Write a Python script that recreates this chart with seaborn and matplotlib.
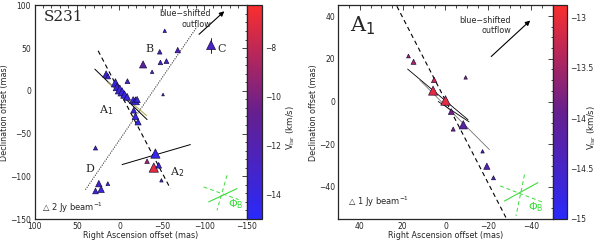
"""Water maser spots in S231: overview panel and zoom on A1."""

import matplotlib
matplotlib.use("Agg")
import matplotlib.pyplot as plt
import numpy as np
import pandas as pd
import seaborn as sns
from matplotlib.colors import LinearSegmentedColormap, Normalize
from matplotlib.colorbar import ColorbarBase
from matplotlib.ticker import MultipleLocator, FuncFormatter

# --- S231 overview (offsets in mas, flux in Jy/beam, velocity in km/s) ---
s231_ra = [-107.8, -53.3, -68.6, -47.4, -48.2, -55.3, -27.8, -38.4, -51.3, -9.4,
           15.7, 13.5, 4.7, 2.7, -0.4, -3.1, -5.9, -9.0, -16.1, -18.8, -20.8,
           -16.8, -18.8, -21.9, 28.2,
           -42.3, -32.5, -40.4, -46.2, -49.4,
           24.3, 28.2, 21.6, 13.7]
s231_dec = [53.5, 70.3, 47.7, 45.7, 33.2, 34.8, 30.9, 22.3, -4.3, 11.3,
            19.5, 17.0, 9.4, 4.7, 1.6, -1.2, -4.3, -7.0, -10.9, -11.7, -10.2,
            -22.7, -29.7, -36.3, -66.8,
            -73.4, -82.4, -89.8, -87.1, -104.7,
            -108.6, -117.2, -115.2, -108.6]
s231_flux = [2.6, 0.3, 0.9, 0.6, 0.6, 0.7, 1.6, 0.3, 0.15, 0.7,
             1.4, 0.8, 2.2, 2.0, 2.6, 2.2, 1.8, 1.5, 1.6, 2.0, 1.2,
             1.0, 1.4, 1.2, 0.5,
             2.8, 0.6, 2.8, 1.0, 0.3,
             1.3, 1.0, 1.3, 0.4]
s231_vel = [-12.8, -13.0, -12.5, -12.8, -13.0, -12.8, -11.3, -12.5, -13.0, -13.2,
            -13.6, -13.8, -14.0, -13.9, -13.7, -13.9, -14.0, -13.8, -14.0, -14.1, -13.9,
            -14.0, -14.1, -14.2, -13.6,
            -14.2, -8.5, -6.9, -13.9, -13.5,
            -13.4, -13.6, -13.8, -13.8]

# --- A1 zoom ---
a1_ra = [17.3, 14.9, 5.3, 5.8, 0.0, -9.4, -2.7, -3.6, -8.3, -17.3, -19.3, -22.4]
a1_dec = [21.3, 18.6, 10.1, 5.1, 0.5, 11.3, -4.7, -12.9, -10.9, -23.3, -30.3, -35.7]
a1_flux = [0.25, 0.5, 0.6, 1.8, 2.0, 0.2, 0.7, 0.3, 1.5, 0.2, 0.8, 0.3]
a1_vel = [-13.55, -13.45, -13.15, -13.05, -13.05, -13.6, -13.85, -13.7, -14.15,
          -14.3, -14.25, -14.45]

cmap = LinearSegmentedColormap.from_list(
    "vlsr", [(0.16, 0.16, 0.98), (0.40, 0.12, 0.56), (0.98, 0.18, 0.18)])


def minus(value, pos=None):
    return f"{value:g}".replace("-", "\u2212")


def style_axis(ax, major, minor):
    ax.xaxis.set_major_locator(MultipleLocator(major))
    ax.xaxis.set_minor_locator(MultipleLocator(minor))
    ax.yaxis.set_major_locator(MultipleLocator(major))
    ax.yaxis.set_minor_locator(MultipleLocator(minor))
    ax.xaxis.set_major_formatter(FuncFormatter(minus))
    ax.yaxis.set_major_formatter(FuncFormatter(minus))
    ax.tick_params(which="both", direction="in", top=True, right=True,
                   labelsize=5.5, width=0.6)
    ax.tick_params(axis="x", pad=2)
    ax.tick_params(axis="y", pad=2.5)
    ax.tick_params(which="major", length=3.5)
    ax.tick_params(which="minor", length=1.8)
    for spine in ax.spines.values():
        spine.set_linewidth(0.9)
    ax.set_xlabel("Right Ascension offset (mas)", fontsize=5.8, labelpad=0.5)
    ax.set_ylabel("Declination offset (mas)", fontsize=5.8, labelpad=0.5)


def draw_masers(ax, ra, dec, flux, vel, vmin, vmax, sizes):
    df = pd.DataFrame({"ra": ra, "dec": dec, "flux": flux, "vel": vel})
    sns.scatterplot(data=df, x="ra", y="dec", hue="vel", size="flux",
                    sizes=sizes, size_norm=(0.1, 3.0), hue_norm=(vmin, vmax),
                    palette=cmap, marker="^", edgecolor=(0.08, 0.03, 0.22),
                    linewidth=0.45, legend=False, ax=ax, zorder=3)


def draw_colorbar(fig, rect, vmin, vmax, major, minor, label_xy):
    cax = fig.add_axes(rect)
    cb = ColorbarBase(cax, cmap=cmap, norm=Normalize(vmin, vmax))
    cb.outline.set_linewidth(0.9)
    cax.yaxis.set_major_locator(MultipleLocator(major))
    cax.yaxis.set_minor_locator(MultipleLocator(minor))
    cax.yaxis.set_major_formatter(FuncFormatter(minus))
    cax.tick_params(which="both", direction="in", left=True, right=True,
                    labelsize=5.5, pad=2, width=0.5)
    cax.tick_params(which="major", length=3)
    cax.tick_params(which="minor", length=1.5)
    fig.text(*label_xy, r"V$_{\rm lsr}$ (km/s)", fontsize=6.2, rotation=90,
             ha="center", va="center")
    return cax


def draw_beam(ax, solid, dash1, dash2, phi_xy):
    green = "#3ddc3d"
    ax.plot(*zip(*solid), color=green, lw=0.8)
    ax.plot(*zip(*dash1), color=green, lw=0.7, ls=(0, (4, 3)))
    ax.plot(*zip(*dash2), color=green, lw=0.7, ls=(0, (4, 3)))
    ax.text(*phi_xy, r"$\Phi_{\rm B}$", color=green, fontsize=8)


sns.set_style("white")
plt.rcParams["font.family"] = ["DejaVu Sans"]
plt.rcParams["mathtext.fontset"] = "dejavusans"

fig = plt.figure(figsize=(6, 2.4), dpi=100)

# ----- left panel -----
ax1 = fig.add_axes([0.0575, 0.0875, 0.354, 0.89])
draw_masers(ax1, s231_ra, s231_dec, s231_flux, s231_vel, -15, -6.3, (3, 48))
ax1.plot([-107.8, -107.8], [44, 62], color="k", lw=0.6)
ax1.plot([40, -91.3], [-115.6, 75], color="k", lw=0.7, ls=(0, (1, 1.5)))
ax1.plot([25.1, -60], [46.9, -114.5], color="k", lw=0.8, ls=(0, (4, 3)))
ax1.plot([29, -32.5], [25.4, -33.6], color="k", lw=0.7)
ax1.plot([14, -32], [10, -29], color="#b5b060", lw=0.8)
ax1.plot([-3.1, -83.5], [-86.3, -62.9], color="k", lw=0.7)
ax1.annotate("", xy=(-125.8, 95.3), xytext=(-91.3, 64),
             arrowprops=dict(arrowstyle="-|>", color="k", lw=0.8,
                             mutation_scale=7))
ax1.text(-108, 84, "blue\u2212shifted\noutflow", fontsize=5.8, ha="right",
         va="center", multialignment="right", linespacing=1.25)
ax1.text(89, 86.7, "S231", fontsize=11, family="DejaVu Serif", va="center")
ax1.text(-35.7, 48.4, "B", fontsize=8, family="DejaVu Serif", ha="center", va="center")
ax1.text(-120.7, 48.4, "C", fontsize=8, family="DejaVu Serif", ha="center", va="center")
ax1.text(34.9, -91.4, "D", fontsize=8, family="DejaVu Serif", ha="center", va="center")
ax1.text(15.3, -22.7, r"A$_1$", fontsize=8, family="DejaVu Serif", ha="center", va="center")
ax1.text(-67.8, -94.9, r"A$_2$", fontsize=8, family="DejaVu Serif", ha="center", va="center")
ax1.text(91, -137, "\u25b3 2 Jy beam$^{-1}$", fontsize=6, va="center")
draw_beam(ax1, [(-105, -130), (-138.4, -114.4)],
          [(-126.6, -98.8), (-114.8, -139.8)],
          [(-99.1, -112.5), (-140.2, -127.3)], (-128, -136))
ax1.set_xlim(100, -150)
ax1.set_ylim(-150, 100)
style_axis(ax1, 50, 10)
draw_colorbar(fig, [0.4115, 0.0875, 0.025, 0.89], -15, -6.3, 2, 0.5,
              (0.484, 0.47))

# ----- right panel -----
ax2 = fig.add_axes([0.564, 0.0875, 0.357, 0.89])
draw_masers(ax2, a1_ra, a1_dec, a1_flux, a1_vel, -15, -12.88, (4, 70))
ax2.plot([22.7, -28.2], [44.6, -54.3], color="k", lw=0.8, ls=(0, (4, 3)))
ax2.plot([17.7, -10.5], [15.2, -8.5], color="k", lw=0.6)
ax2.plot([12, -20.5], [10, -22.5], color="0.45", lw=0.6)
ax2.plot([3.4, -11], [0, -9.5], color="k", lw=0.6)
ax2.annotate("", xy=(-40.5, 38.8), xytext=(-20.4, 20.2),
             arrowprops=dict(arrowstyle="-|>", color="k", lw=0.8,
                             mutation_scale=7))
ax2.text(-30.6, 35.6, "blue\u2212shifted\noutflow", fontsize=5.8, ha="right",
         va="center", multialignment="right", linespacing=1.25)
ax2.text(44.7, 35.7, r"A$_1$", fontsize=15, family="DejaVu Serif", va="center")
ax2.text(45.5, -47, "\u25b3 1 Jy beam$^{-1}$", fontsize=6, va="center")
draw_beam(ax2, [(-27.5, -46.6), (-43.1, -38)],
          [(-36.9, -34.2), (-32.9, -53.6)],
          [(-25.5, -39.5), (-45, -47)], (-38.5, -51))
ax2.set_xlim(50, -50)
ax2.set_ylim(-55, 45)
style_axis(ax2, 20, 5)
draw_colorbar(fig, [0.921, 0.0875, 0.0245, 0.89], -15, -12.88, 0.5, 0.1,
              (0.987, 0.47))

fig.savefig("out.png", dpi=100)
